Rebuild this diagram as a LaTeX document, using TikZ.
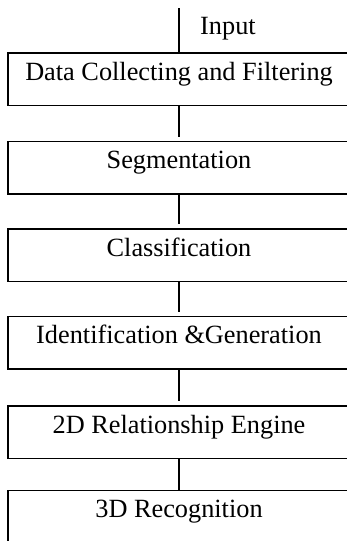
\documentclass[tikz,border=0pt]{standalone}
\usepackage{fontspec}
\setmainfont{Liberation Serif}
\usetikzlibrary{positioning}

\begin{document}
\begin{tikzpicture}[
  x=1pt,y=1pt,
  stage/.style={draw,line width=1.1pt,minimum width=342pt,inner xsep=0pt,inner ysep=0pt,outer sep=0pt,
    text height=27pt,text depth=25.5pt,font=\fontsize{26.3}{30}\selectfont},
  link/.style={line width=1.1pt,shorten >=5pt},
  lbl/.style={font=\fontsize{26.3}{30}\selectfont,inner sep=0pt}
]
\useasboundingbox (0,0) rectangle (347,-541);
\clip (0,0) rectangle (347,-541);
\node[stage,anchor=north west] (collect) at (8,-53) {Data Collecting and Filtering};
\node[stage,below=36pt of collect] (segment) {Segmentation};
\node[stage,below=35pt of segment] (classify) {Classification};
\node[stage,below=35pt of classify] (identify) {Identification \&Generation};
\node[stage,below=37pt of identify] (engine) {2D Relationship Engine};
\node[stage,below=32pt of engine] (recog) {3D Recognition};
\coordinate (in) at (collect.north |- 0,-8);
\node[lbl,anchor=base west] (input) at (200,-34) {Input};
\draw[line width=1.1pt] (in) -- (collect);
\draw[link] (collect) -- (segment);
\draw[link] (segment) -- (classify);
\draw[link] (classify) -- (identify);
\draw[link] (identify) -- (engine);
\draw[line width=1.1pt] (engine) -- (recog);
\end{tikzpicture}
\end{document}
